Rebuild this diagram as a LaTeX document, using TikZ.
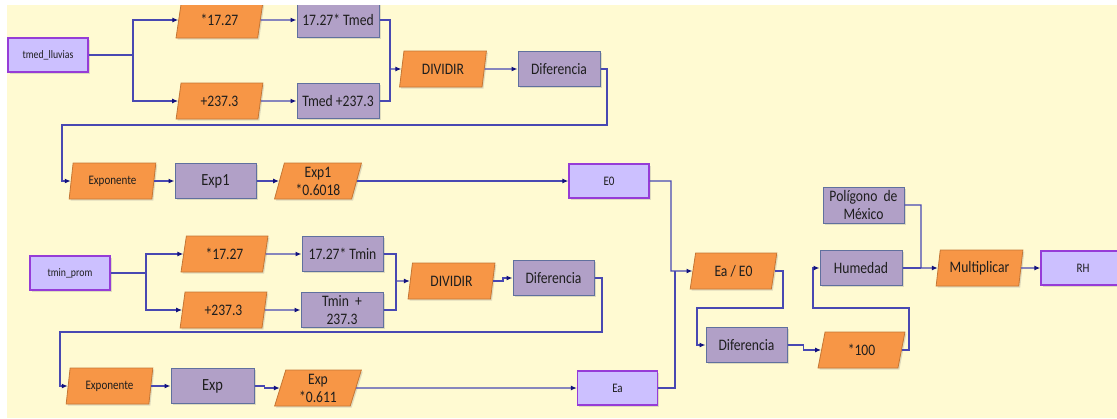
\documentclass[tikz,border=0pt]{standalone}
\usepackage{fontspec}
\setmainfont{Carlito}[FakeStretch=0.85]
\usetikzlibrary{arrows.meta,shapes.geometric,shadows}

\definecolor{bgyellow}{RGB}{255,250,210}
\definecolor{toolfill}{RGB}{247,150,70}
\definecolor{tooledge}{RGB}{196,118,52}
\definecolor{valfill}{RGB}{177,160,199}
\definecolor{valedge}{RGB}{96,112,158}
\definecolor{datfill}{RGB}{204,192,255}
\definecolor{datedge}{RGB}{150,60,215}
\definecolor{wireblue}{RGB}{72,72,178}
\definecolor{tipnavy}{RGB}{18,18,125}
\definecolor{inktext}{RGB}{30,30,30}

\def\fsz#1#2{\fontsize{#1}{#2}\selectfont}

\tikzset{
	boxshade/.style={drop shadow={shadow xshift=1.5pt, shadow yshift=-1.5pt, opacity=0.25}},
	datbox/.style={draw=datedge, fill=datfill, line width=1.3pt, minimum width=80pt, minimum height=34pt, inner sep=1pt, text=inktext, font=\fsz{13}{15}, boxshade},
	valbox/.style={draw=valedge, fill=valfill, line width=1pt, minimum width=82pt, minimum height=35pt, inner sep=1pt, align=center, text=inktext, font=\fsz{16}{18}, boxshade},
	toolbox/.style={trapezium, trapezium left angle=77, trapezium right angle=103, trapezium stretches=true, draw=tooledge, fill=toolfill, line width=0.8pt, minimum width=87pt, minimum height=36pt, inner sep=0pt, align=center, text=inktext, font=\fsz{16}{18}, boxshade},
	smalltxt/.style={font=\fsz{13}{15}},
	tinytxt/.style={font=\fsz{11.5}{13}},
	link/.style={draw=wireblue, line width=1.3pt, -{Latex[length=6pt,width=5pt,color=tipnavy]}},
	wire/.style={draw=wireblue, line width=1.3pt},
}

\begin{document}
\begin{tikzpicture}[x=1pt, y=-1pt]
		%%%%% START %%%%%
		
		\fill[white] (0, 0) rectangle (1117, 418);
		\useasboundingbox (0, 0) rectangle (1117, 418);
		\clip (7, 5) rectangle (1117, 418);
		\fill[bgyellow] (7, 5) rectangle (1117, 418);
		
		% tmed_lluvias branch
		\node[datbox, tinytxt] (tmedll) at (48, 55) {tmed\_lluvias};
		\node[toolbox] (mul1) at (219.5, 20) {*17.27};
		\node[valbox] (prd1) at (338, 20) {17.27* Tmed};
		\node[toolbox] (add1) at (219.5, 101) {+237.3};
		\node[valbox] (sum1) at (338, 101) {Tmed +237.3};
		\node[toolbox] (div1) at (443, 69) {DIVIDIR};
		\node[valbox] (dif1) at (559, 69) {Diferencia};
		
		\node[toolbox, smalltxt] (pow1) at (112.5, 181) {Exponente};
		\node[valbox, minimum width=81pt, font=\fsz{17}{18}] (ex1) at (215.5, 181) {Exp1};
		\node[toolbox] (mulb1) at (318, 181) {Exp1\\*0.6018};
		\node[datbox] (e0) at (609, 181) {E0};
		
		% tmin_prom branch
		\node[datbox, tinytxt] (tminp) at (70, 273) {tmin\_prom};
		\node[toolbox] (mul2) at (224.5, 254) {*17.27};
		\node[valbox, minimum width=81pt] (prd2) at (342.5, 254) {17.27* Tmin};
		\node[toolbox] (add2) at (223.5, 310) {+237.3};
		\node[valbox] (sum2) at (342, 310) {Tmin~~+\\237.3};
		\node[toolbox] (div2) at (451.5, 281) {DIVIDIR};
		\node[valbox, minimum width=81pt] (dif2) at (553.5, 278) {Diferencia};
		
		\node[toolbox, smalltxt] (pow2) at (109.5, 386) {Exponente};
		\node[valbox, minimum width=83pt, font=\fsz{17}{18}] (ex2) at (212.5, 386) {Exp};
		\node[toolbox] (mulb2) at (318, 388) {Exp\\*0.611};
		\node[datbox] (ea) at (617.5, 388) {Ea};
		
		% humedad relativa
		\node[toolbox] (ratio) at (733.5, 271) {Ea / E0};
		\node[valbox, minimum width=81pt] (dif3) at (746.5, 345) {Diferencia};
		\node[toolbox] (p100) at (861.5, 350) {*100};
		\node[valbox] (hum) at (861, 268) {Humedad};
		\node[valbox, minimum width=81pt, minimum height=36pt] (pol) at (863.5, 205) {Polígono~~de\\México};
		\node[toolbox] (mult) at (979.5, 268) {Multiplicar};
		\node[datbox, minimum width=84pt] (rh) at (1083, 268) {RH};
		
		% connectors, top
		\coordinate (sp1) at (133, 55);
		\draw[link] (tmedll.east) -- (sp1) |- (mul1.west);
		\draw[link] (sp1) |- (add1.west);
		\draw[link] (mul1.east) -- (prd1.west);
		\draw[link] (add1.east) -- (sum1.west);
		\coordinate (jn1) at (390, 69);
		\draw[wire] (prd1.east) -| (jn1);
		\draw[wire] (sum1.east) -| (jn1);
		\draw[link] (jn1) -- (div1.west);
		\draw[link] (div1.east) -- (dif1.west);
		\coordinate (lp1a) at (607, 125);
		\coordinate (lp1b) at (62, 125);
		\draw[link] (dif1.east) -| (lp1a) -- (lp1b) |- (pow1.west);
		\draw[link] (pow1.east) -- (ex1.west);
		\draw[link] (ex1.east) -- (mulb1.west);
		\draw[link] (mulb1.east) -- (e0.west);
		
		% connectors, bottom
		\coordinate (sp2) at (146, 273);
		\draw[link] (tminp.east) -- (sp2) |- (mul2.west);
		\draw[link] (sp2) |- (add2.west);
		\draw[link] (mul2.east) -- (prd2.west);
		\draw[link] (add2.east) -- (sum2.west);
		\coordinate (jn2) at (396, 281);
		\draw[wire] (prd2.east) -| (jn2);
		\draw[wire] (sum2.east) -| (jn2);
		\draw[link] (jn2) -- (div2.west);
		\draw[link] (div2.east) -- ++(10, 0) |- (dif2.west);
		\coordinate (lp2a) at (602, 332);
		\coordinate (lp2b) at (60, 332);
		\draw[link] (dif2.east) -| (lp2a) -- (lp2b) |- (pow2.west);
		\draw[link] (pow2.east) -- (ex2.west);
		\draw[link] (ex2.east) -- ++(10, 0) |- (mulb2.west);
		\draw[link] (mulb2.east) -- (ea.west);
		
		% connectors, right
		\coordinate (jn3) at (671, 271);
		\coordinate (jn4) at (675, 271);
		\draw[link] (e0.east) -| (jn3) -- (ratio.west);
		\draw[wire] (ea.east) -| (jn4);
		\coordinate (lp3a) at (783, 308);
		\coordinate (lp3b) at (697, 308);
		\draw[link] (ratio.east) -| (lp3a) -- (lp3b) |- (dif3.west);
		\draw[link] (dif3.east) -- ++(16, 0) |- (p100.west);
		\coordinate (lp4a) at (909, 308);
		\coordinate (lp4b) at (813, 308);
		\draw[link] (p100.east) -| (lp4a) -- (lp4b) |- (hum.west);
		\coordinate (jn5) at (921, 268);
		\draw[link] (pol.east) -| (jn5) -- (mult.west);
		\draw[wire] (hum.east) -- (jn5);
		\draw[link] (mult.east) -- (rh.west);
		
		%%%%% END %%%%%
\end{tikzpicture}
\end{document}
